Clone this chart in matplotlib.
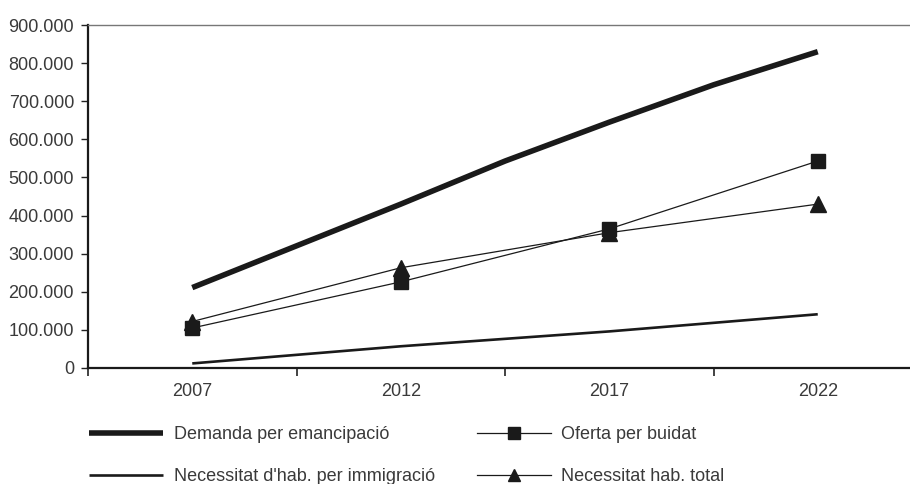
import matplotlib
matplotlib.use("Agg")
import matplotlib.pyplot as plt
from matplotlib.ticker import FuncFormatter, FixedLocator

plt.rcParams['font.family'] = ['Liberation Sans', 'DejaVu Sans']

# Data
year_labels = ["2007", "2012", "2017", "2022"]
label_years = [2007, 2012, 2017, 2022]

demanda_years = [2007, 2012, 2014.5, 2017, 2019.5, 2022]
demanda = [211000, 430000, 543000, 645000, 743000, 830000]

immigracio_years = [2007, 2012, 2017, 2022]
immigracio = [12000, 57000, 96000, 141000]

oferta_years = [2007, 2012, 2017, 2022]
oferta = [105000, 226000, 365000, 543000]

total_years = [2007, 2012, 2017, 2022]
total = [122000, 263000, 355000, 430000]

names = ["Demanda per emancipació", "Oferta per buidat",
         "Necessitat d'hab. per immigració", "Necessitat hab. total"]

W, H = 910, 484
fig = plt.figure(figsize=(W / 100, H / 100), dpi=100)
ax = fig.add_axes([88 / W, (H - 368) / H, (922 - 88) / W, (368 - 25) / H])

txt = '#3a3a3a'
l1, = ax.plot(demanda_years, demanda, color='#1a1a1a', lw=4.0, solid_capstyle='butt', zorder=3)
l2, = ax.plot(oferta_years, oferta, color='#1a1a1a', lw=0.9, marker='s', ms=10.5,
              mfc='#1a1a1a', mec='#1a1a1a', zorder=4)
l3, = ax.plot(immigracio_years, immigracio, color='#1a1a1a', lw=1.9, solid_capstyle='butt', zorder=3)
l4, = ax.plot(total_years, total, color='#1a1a1a', lw=0.9, marker='^', ms=11.5,
              mfc='#1a1a1a', mec='#1a1a1a', zorder=4)

ax.set_ylim(0, 900000)
ax.set_xlim(2004.5, 2024.5)
ax.yaxis.set_major_locator(FixedLocator(list(range(0, 900001, 100000))))
ax.yaxis.set_major_formatter(FuncFormatter(lambda v, p: f"{int(v):,}".replace(",", ".")))
ax.xaxis.set_major_locator(FixedLocator([2004.5, 2009.5, 2014.5, 2019.5, 2024.5]))
ax.xaxis.set_major_formatter(FuncFormatter(lambda v, p: ""))
ax.xaxis.set_minor_locator(FixedLocator(label_years))
ax.set_xticklabels(year_labels, minor=True)

ax.tick_params(axis='x', which='major', direction='out', length=6, width=1.2, color='#222222')
ax.tick_params(axis='x', which='minor', length=0, pad=11, labelsize=13, labelcolor=txt)
ax.tick_params(axis='y', direction='out', length=5, width=1, color='#222222', pad=5,
               labelsize=13, labelcolor=txt)

for s in ['left', 'bottom']:
    ax.spines[s].set_color('#1a1a1a')
    ax.spines[s].set_linewidth(1.6)
ax.spines['top'].set_color('#777777')
ax.spines['top'].set_linewidth(1.0)
ax.spines['right'].set_visible(False)

fig.legend([l1, l3, l2, l4], [names[0], names[2], names[1], names[3]],
           loc='upper left', bbox_to_anchor=(89 / W, 1 - 426 / H), ncol=2, frameon=False,
           fontsize=13, labelcolor=txt, handlelength=4.1, handletextpad=0.6,
           columnspacing=2.3, labelspacing=1.4, borderpad=0, borderaxespad=0,
           markerscale=0.8)

fig.savefig("out.png", dpi=100)
